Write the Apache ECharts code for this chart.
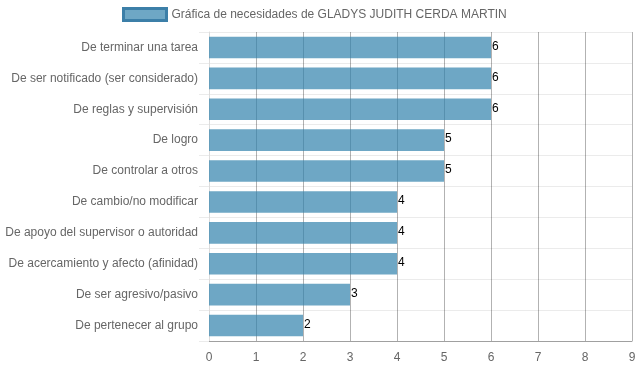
<!DOCTYPE html>
<html><head><meta charset="utf-8">
<script src="https://cdn.jsdelivr.net/npm/echarts@6/dist/echarts.min.js"></script>
<style>html,body{margin:0;padding:0;background:#fff}#c{width:639px;height:372px}</style>
</head><body><div id="c"></div>
<script>
const categories = [
  "De terminar una tarea",
  "De ser notificado (ser considerado)",
  "De reglas y supervisión",
  "De logro",
  "De controlar a otros",
  "De cambio/no modificar",
  "De apoyo del supervisor o autoridad",
  "De acercamiento y afecto (afinidad)",
  "De ser agresivo/pasivo",
  "De pertenecer al grupo"
];
const values = [6, 6, 6, 5, 5, 4, 4, 4, 3, 2];
const seriesName = "Gráfica de necesidades de GLADYS JUDITH CERDA MARTIN";
const xTicks = [0, 9, 1];

const chart = echarts.init(document.getElementById('c'), null, {renderer: 'canvas'});
const font = "'Liberation Sans', Arial, sans-serif";
chart.setOption({
  animation: false,
  textStyle: {fontFamily: font},
  legend: {
    top: 2, left: 117,
    icon: 'rect',
    itemWidth: 43, itemHeight: 12, itemGap: 6,
    textStyle: {color: '#666', fontSize: 12, fontFamily: font},
    data: [{name: seriesName, itemStyle: {color: 'rgba(49,129,172,0.7)', borderColor: '#3c7fa8', borderWidth: 3}}]
  },
  grid: {left: 209, right: 7, top: 32, bottom: 31, containLabel: false},
  xAxis: {
    type: 'value', min: xTicks[0], max: xTicks[1], interval: xTicks[2],
    axisLine: {show: true, lineStyle: {color: '#a0a0a0', width: 1}},
    axisTick: {show: true, length: 0},
    axisLabel: {color: '#666', fontSize: 12, fontFamily: font, margin: 11},
    splitLine: {show: true, lineStyle: {color: 'rgba(0,0,0,0.3)', width: 1}}
  },
  yAxis: {
    type: 'category', inverse: true, data: categories,
    axisLine: {show: true, lineStyle: {color: '#dcdcdc'}},
    axisTick: {show: true, length: 10, lineStyle: {color: '#ebebeb'}},
    axisLabel: {color: '#666', fontSize: 12, fontFamily: font, margin: 11},
    splitLine: {show: true, lineStyle: {color: '#ebebeb', width: 1}}
  },
  series: [{
    name: seriesName, type: 'bar', data: values,
    barCategoryGap: '30%',
    itemStyle: {color: 'rgba(49,129,172,0.7)'},
    label: {show: true, position: 'right', distance: 1, offset: [0, -1], color: '#000', fontSize: 12, fontFamily: font}
  }]
});
</script></body></html>
